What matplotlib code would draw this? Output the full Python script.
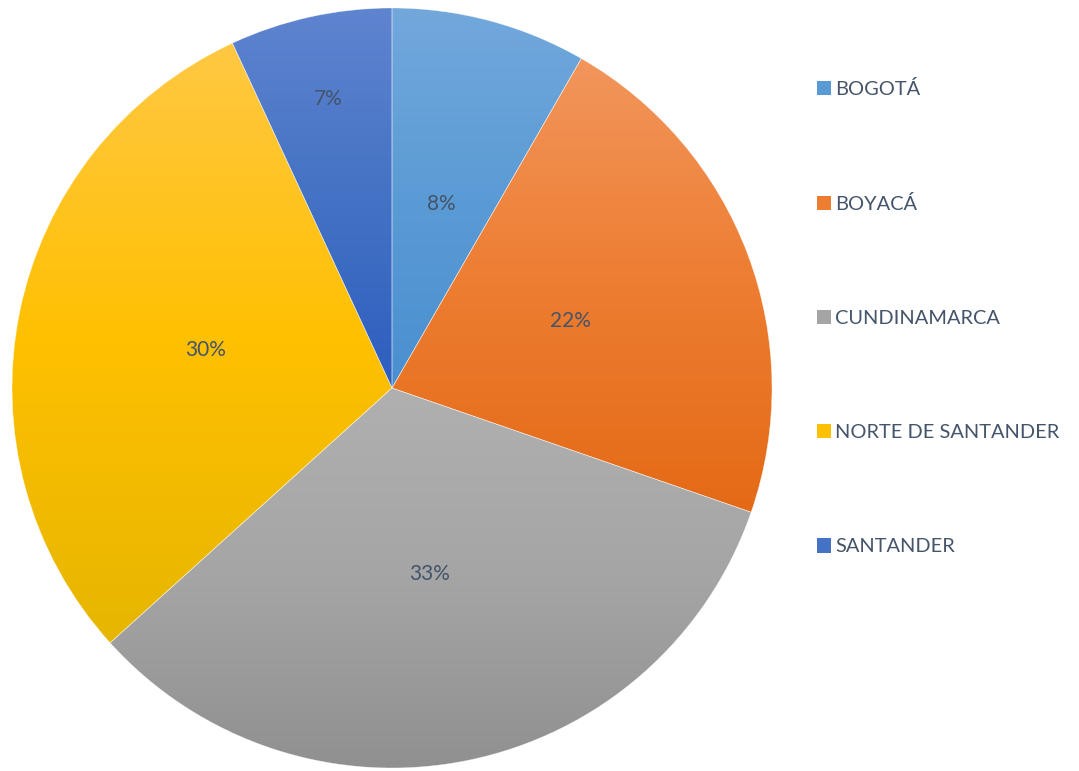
"""Pie chart by department, Excel-style gradient slices."""

import numpy as np
import matplotlib
matplotlib.use("Agg")
import matplotlib.pyplot as plt
import matplotlib.patches as mpatches
from matplotlib.colors import LinearSegmentedColormap

plt.rcParams["font.family"] = ["Lato", "DejaVu Sans"]

departments = ["BOGOTÁ", "BOYACÁ", "CUNDINAMARCA", "NORTE DE SANTANDER", "SANTANDER"]
shares = [8.3, 22.0, 33.0, 29.8, 6.9]
pct_labels = ["8%", "22%", "33%", "30%", "7%"]

# gradient stops (top, base, bottom) of each slice
top_colors = ["#72a8dc", "#f2965c", "#b0b0b0", "#ffc843", "#5f84d0"]
base_colors = ["#5b9bd5", "#ed7d31", "#a5a5a5", "#ffc000", "#4472c4"]
bottom_colors = ["#4a8fd0", "#e46a16", "#909090", "#e6b600", "#2d5ebf"]
label_dist = [0.5, 0.5, 0.5, 0.5, 0.78]  # excel "best fit" pushes the small one out

TEXT = "#44546a"

fig = plt.figure(figsize=(10.79, 7.71), dpi=100)
ax = fig.add_axes([0, 0, 1, 1])

cx, cy, r = 392, 383, 380
wedges, texts = ax.pie(shares, center=(cx, cy), radius=r, startangle=90,
                       counterclock=False, labels=None,
                       wedgeprops=dict(edgecolor=(1, 1, 1, 0.6), linewidth=0.4))

for w, lab, c0, cm, c1, d in zip(wedges, pct_labels, top_colors, base_colors,
                                 bottom_colors, label_dist):
    # bounding box of the wedge for the gradient
    t = np.radians(np.linspace(w.theta1, w.theta2, 200))
    xs = np.concatenate([[cx], cx + r * np.cos(t)])
    ys = np.concatenate([[cy], cy + r * np.sin(t)])
    cmap = LinearSegmentedColormap.from_list("g", [c1, cm, c0])
    grad = np.linspace(1, 0, 256).reshape(-1, 1)
    im = ax.imshow(grad, cmap=cmap, vmin=0, vmax=1, aspect="auto",
                   extent=(xs.min(), xs.max(), ys.min(), ys.max()),
                   zorder=1, interpolation="bilinear")
    im.set_clip_path(w)
    w.set_zorder(2)
    w.set_facecolor((0, 0, 0, 0))

    mid = np.radians((w.theta1 + w.theta2) / 2)
    ax.text(cx + d * r * np.cos(mid), cy + d * r * np.sin(mid), lab,
            ha="center", va="center", fontsize=15, color=TEXT, zorder=3)

ax.set_xlim(0, 1079)
ax.set_ylim(0, 771)
ax.set_aspect("auto")
ax.axis("off")

handles = [mpatches.Patch(facecolor=c, edgecolor="none") for c in base_colors]
leg = ax.legend(handles, departments, loc="upper left",
                bbox_to_anchor=(817 / 1079, 1 - 80 / 771),
                frameon=False, fontsize=14.4, labelcolor=TEXT,
                handlelength=0.72, handleheight=0.72, handletextpad=0.2,
                labelspacing=4.85, borderpad=0, borderaxespad=0)

fig.savefig("out.png", dpi=100)
